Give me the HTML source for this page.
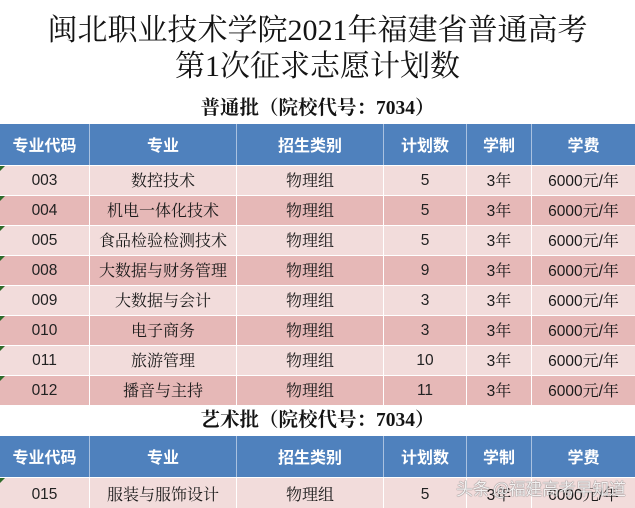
<!DOCTYPE html>
<html>
<head>
<meta charset="utf-8">
<style>
  html,body{margin:0;padding:0;background:#fff;}
  body{width:635px;height:508px;position:relative;overflow:hidden;}
  .t{position:absolute;left:0;width:635px;text-align:center;white-space:nowrap;color:#141414;}
  .title{font-family:"Liberation Serif","Noto Serif CJK SC",serif;font-size:30px;height:36px;line-height:36px;}
  .sub{font-family:"Liberation Serif","Noto Serif CJK SC",serif;font-size:19.5px;font-weight:bold;height:24px;line-height:24px;}
  .row{position:absolute;left:0;width:635px;display:flex;}
  .row div{box-sizing:border-box;text-align:center;white-space:nowrap;overflow:hidden;}
  .row div+div{border-left:1px solid #fff;}
  .c1{width:89px}.c2{width:147px}.c3{width:147px}.c4{width:83px}.c5{width:65px}.c6{width:104px}
  .hd{height:41px;line-height:40px;background:#4f81bd;color:#fff;font-family:"Noto Sans CJK SC",sans-serif;font-weight:bold;font-size:16px;}
  .hd div+div{border-left:1px solid #a9c1e0;}
  .bd{height:30px;line-height:28px;font-family:"Noto Serif CJK SC",serif;font-size:16px;color:#1a1a1a;border-top:1px solid #fff;box-sizing:border-box;}
  .bd .c1,.bd .c4{font-family:"Liberation Sans",sans-serif;font-size:15.5px;color:#222;line-height:30px;}
  .n{font-family:"Liberation Sans",sans-serif;font-size:15.5px;}
  .l{background:#f2dcdb;}
  .d{background:#e6b8b7;}
  .tri{position:absolute;left:0;width:0;height:0;border-top:5px solid #2f6b2a;border-right:5px solid transparent;}
  .wm{position:absolute;left:456px;top:475px;font-family:"Noto Sans CJK SC",sans-serif;font-size:17px;color:#f4f4f4;white-space:nowrap;
      text-shadow:0 0 1px #666,0 0 1px #666;letter-spacing:-0.3px;opacity:0.9;}
</style>
</head>
<body>
  <div class="t title" style="top:13px;">闽北职业技术学院2021年福建省普通高考</div>
  <div class="t title" style="top:49px;">第1次征求志愿计划数</div>
  <div class="t sub" style="top:97px;">普通批（院校代号：7034）</div>

  <div class="row hd" style="top:124px;">
    <div class="c1">专业代码</div><div class="c2">专业</div><div class="c3">招生类别</div><div class="c4">计划数</div><div class="c5">学制</div><div class="c6">学费</div>
  </div>

  <div class="row bd l" style="top:165px;"><div class="c1">003</div><div class="c2">数控技术</div><div class="c3">物理组</div><div class="c4">5</div><div class="c5"><span class="n">3</span>年</div><div class="c6"><span class="n">6000</span>元<span class="n">/</span>年</div></div>
  <div class="row bd d" style="top:195px;"><div class="c1">004</div><div class="c2">机电一体化技术</div><div class="c3">物理组</div><div class="c4">5</div><div class="c5"><span class="n">3</span>年</div><div class="c6"><span class="n">6000</span>元<span class="n">/</span>年</div></div>
  <div class="row bd l" style="top:225px;"><div class="c1">005</div><div class="c2">食品检验检测技术</div><div class="c3">物理组</div><div class="c4">5</div><div class="c5"><span class="n">3</span>年</div><div class="c6"><span class="n">6000</span>元<span class="n">/</span>年</div></div>
  <div class="row bd d" style="top:255px;"><div class="c1">008</div><div class="c2">大数据与财务管理</div><div class="c3">物理组</div><div class="c4">9</div><div class="c5"><span class="n">3</span>年</div><div class="c6"><span class="n">6000</span>元<span class="n">/</span>年</div></div>
  <div class="row bd l" style="top:285px;"><div class="c1">009</div><div class="c2">大数据与会计</div><div class="c3">物理组</div><div class="c4">3</div><div class="c5"><span class="n">3</span>年</div><div class="c6"><span class="n">6000</span>元<span class="n">/</span>年</div></div>
  <div class="row bd d" style="top:315px;"><div class="c1">010</div><div class="c2">电子商务</div><div class="c3">物理组</div><div class="c4">3</div><div class="c5"><span class="n">3</span>年</div><div class="c6"><span class="n">6000</span>元<span class="n">/</span>年</div></div>
  <div class="row bd l" style="top:345px;"><div class="c1">011</div><div class="c2">旅游管理</div><div class="c3">物理组</div><div class="c4">10</div><div class="c5"><span class="n">3</span>年</div><div class="c6"><span class="n">6000</span>元<span class="n">/</span>年</div></div>
  <div class="row bd d" style="top:375px;"><div class="c1">012</div><div class="c2">播音与主持</div><div class="c3">物理组</div><div class="c4">11</div><div class="c5"><span class="n">3</span>年</div><div class="c6"><span class="n">6000</span>元<span class="n">/</span>年</div></div>

  <div class="tri" style="top:166px;"></div>
  <div class="tri" style="top:196px;"></div>
  <div class="tri" style="top:226px;"></div>
  <div class="tri" style="top:256px;"></div>
  <div class="tri" style="top:286px;"></div>
  <div class="tri" style="top:316px;"></div>
  <div class="tri" style="top:346px;"></div>
  <div class="tri" style="top:376px;"></div>

  <div class="t sub" style="top:409px;">艺术批（院校代号：7034）</div>

  <div class="row hd" style="top:436px;">
    <div class="c1">专业代码</div><div class="c2">专业</div><div class="c3">招生类别</div><div class="c4">计划数</div><div class="c5">学制</div><div class="c6">学费</div>
  </div>
  <div class="row bd l" style="top:477px;height:31px;line-height:31px;"><div class="c1" style="line-height:33px;">015</div><div class="c2">服装与服饰设计</div><div class="c3">物理组</div><div class="c4" style="line-height:33px;">5</div><div class="c5"><span class="n">3</span>年</div><div class="c6"><span class="n">6000</span>元<span class="n">/</span>年</div></div>
  <div class="tri" style="top:478px;"></div>

  <div class="wm">头条 @福建高考早知道</div>
</body>
</html>
